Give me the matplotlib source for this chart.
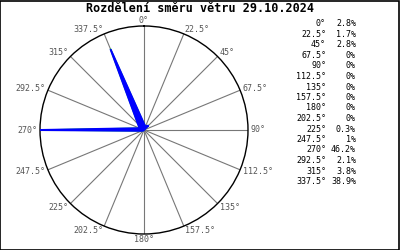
import numpy as np
import matplotlib
matplotlib.use("Agg")
import matplotlib.pyplot as plt

# wind direction distribution
directions = [0, 22.5, 45, 67.5, 90, 112.5, 135, 157.5, 180, 202.5, 225, 247.5, 270, 292.5, 315, 337.5]
percents = [2.8, 1.7, 2.8, 0, 0, 0, 0, 0, 0, 0, 0.3, 1, 46.2, 2.1, 3.8, 38.9]
title = "Rozdělení směru větru 29.10.2024"

mono = "DejaVu Sans Mono"

fig = plt.figure(figsize=(4, 2.5), dpi=100)
fig.patch.set_facecolor("white")

# polar axes: center ~(144,130) px, radius ~104 px
ax = fig.add_axes([40 / 400, 16 / 250, 208 / 400, 208 / 250], projection="polar")
ax.set_theta_zero_location("N")
ax.set_theta_direction(-1)
ax.set_ylim(0, max(percents))
ax.set_yticks([])
ax.set_thetagrids(directions, labels=[""] * len(directions))
ax.grid(True, color="#777777", linewidth=0.8)
ax.spines["polar"].set_color("black")
ax.spines["polar"].set_linewidth(1.0)

theta = np.deg2rad(directions + directions[:1])
r = percents + percents[:1]
ax.plot(theta, r, color="#00ee00", linewidth=1.0, zorder=3)
ax.fill(theta, r, facecolor="#0000ff", edgecolor="#0000ff", linewidth=1.4, zorder=4)

# direction labels round the circle
rmax = max(percents)
for d in directions:
    s, c = np.sin(np.deg2rad(d)), np.cos(np.deg2rad(d))
    ha = "left" if s > 0.1 else ("right" if s < -0.1 else "center")
    ax.annotate(f"{d:g}°", xy=(np.deg2rad(d), rmax), xytext=(s * 2, c * 3.8),
                textcoords="offset points", ha=ha, va="center", fontsize=6,
                family=mono, color="#555555", annotation_clip=False)

fig.text(0.5, 1 - 8 / 250, title, ha="center", va="center", fontsize=8.5,
         family=mono, fontweight="bold")

# table on the right
for i, (d, p) in enumerate(zip(directions, percents)):
    y = 1 - (24 + i * 10.5) / 250
    fig.text(326 / 400, y, f"{d:g}°", ha="right", va="center", fontsize=6, family=mono)
    fig.text(356 / 400, y, f"{p:g}%", ha="right", va="center", fontsize=6, family=mono)

# outer frame
fig.add_artist(plt.Rectangle((0.001, 0.002), 0.997, 0.995, transform=fig.transFigure,
                             fill=False, edgecolor="black", linewidth=1.2))

fig.savefig("out.png", dpi=100)
